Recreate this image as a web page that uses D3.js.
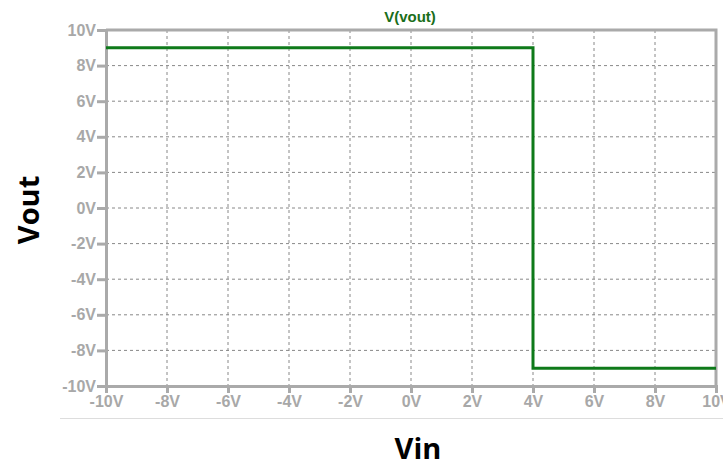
<!DOCTYPE html>
<html>
<head>
  <meta charset="utf-8">
  <title></title>
  <script src="https://cdnjs.cloudflare.com/ajax/libs/d3/7.8.5/d3.min.js"></script>
  <style>
    body { margin: 0; background: #fff; }
  </style>
</head>
<body>
<script>
const width = 723;
const height = 468;
const margin = {top: 30, right: 7, bottom: 82, left: 106};

// trace V(vout) vs Vin
const vin  = [-10, 4, 4, 10];
const vout = [9, 9, -9, -9];
const xTicks = [-10, -8, -6, -4, -2, 0, 2, 4, 6, 8, 10];
const yTicks = [-10, -8, -6, -4, -2, 0, 2, 4, 6, 8, 10];

const svg = d3.select('body').append('svg')
  .attr('width', width)
  .attr('height', height);

const xScale = d3.scaleLinear()
  .domain([-10, 10])
  .range([margin.left, width - margin.right]);

const yScale = d3.scaleLinear()
  .domain([-10, 10])
  .range([height - margin.bottom, margin.top]);

// grid
svg.append('g')
  .selectAll('line')
  .data(xTicks.slice(1, -1)).enter()
  .append('line')
  .attr('x1', d => xScale(d)).attr('x2', d => xScale(d))
  .attr('y1', yScale(10)).attr('y2', yScale(-10))
  .attr('stroke', '#888')
  .attr('stroke-dasharray', '3,3');

svg.append('g')
  .selectAll('line')
  .data(yTicks.slice(1, -1)).enter()
  .append('line')
  .attr('x1', xScale(-10)).attr('x2', xScale(10))
  .attr('y1', d => yScale(d)).attr('y2', d => yScale(d))
  .attr('stroke', '#888')
  .attr('stroke-dasharray', '3,3');

// frame top / right
svg.append('path')
  .attr('d', `M${xScale(-10)},${yScale(10)}H${xScale(10)}V${yScale(-10)}`)
  .attr('fill', 'none')
  .attr('stroke', '#aaa')
  .attr('stroke-width', 3);

const fmt = d => d + 'V';

const xAxis = d3.axisBottom(xScale)
  .tickValues(xTicks)
  .tickFormat(fmt)
  .tickSize(7)
  .tickPadding(3);

const yAxis = d3.axisLeft(yScale)
  .tickValues(yTicks)
  .tickFormat(fmt)
  .tickSize(9)
  .tickPadding(1);

const styleAxis = g => {
  g.select('.domain').attr('stroke', '#aaa').attr('stroke-width', 3);
  g.selectAll('.tick line').attr('stroke', '#aaa').attr('stroke-width', 3);
  g.selectAll('.tick text')
    .attr('fill', '#a8a8a8')
    .attr('font-size', 16)
    .attr('font-weight', 'bold')
    .attr('font-family', '"Liberation Sans", Arial, sans-serif');
};

svg.append('g')
  .attr('transform', `translate(0 ${height - margin.bottom})`)
  .call(xAxis)
  .call(styleAxis);

svg.append('g')
  .attr('transform', `translate(${margin.left} 0)`)
  .call(yAxis)
  .call(styleAxis);

// trace
svg.append('path')
  .datum(vin.map((v, i) => [v, vout[i]]))
  .attr('fill', 'none')
  .attr('stroke', '#0e7a1a')
  .attr('stroke-width', 3)
  .attr('d', d3.line()
    .x(d => xScale(d[0]))
    .y(d => yScale(d[1])));

// title
svg.append('text')
  .attr('x', 410)
  .attr('y', 22)
  .attr('text-anchor', 'middle')
  .attr('fill', '#1a6e1a')
  .attr('font-size', 15)
  .attr('font-weight', 'bold')
  .attr('font-family', '"Liberation Sans", Arial, sans-serif')
  .text('V(vout)');

// separator under axis
svg.append('line')
  .attr('x1', 60).attr('x2', width)
  .attr('y1', 418.5).attr('y2', 418.5)
  .attr('stroke', '#ddd');

// axis titles
svg.append('text')
  .attr('x', 418)
  .attr('y', 459)
  .attr('text-anchor', 'middle')
  .attr('font-size', 29)
  .attr('font-weight', 'bold')
  .attr('font-family', '"Open Sans", sans-serif')
  .text('Vin');

svg.append('text')
  .attr('transform', 'translate(39 210) rotate(-90)')
  .attr('text-anchor', 'middle')
  .attr('font-size', 29)
  .attr('font-weight', 'bold')
  .attr('font-family', '"Open Sans", sans-serif')
  .text('Vout');
</script>
</body>
</html>
